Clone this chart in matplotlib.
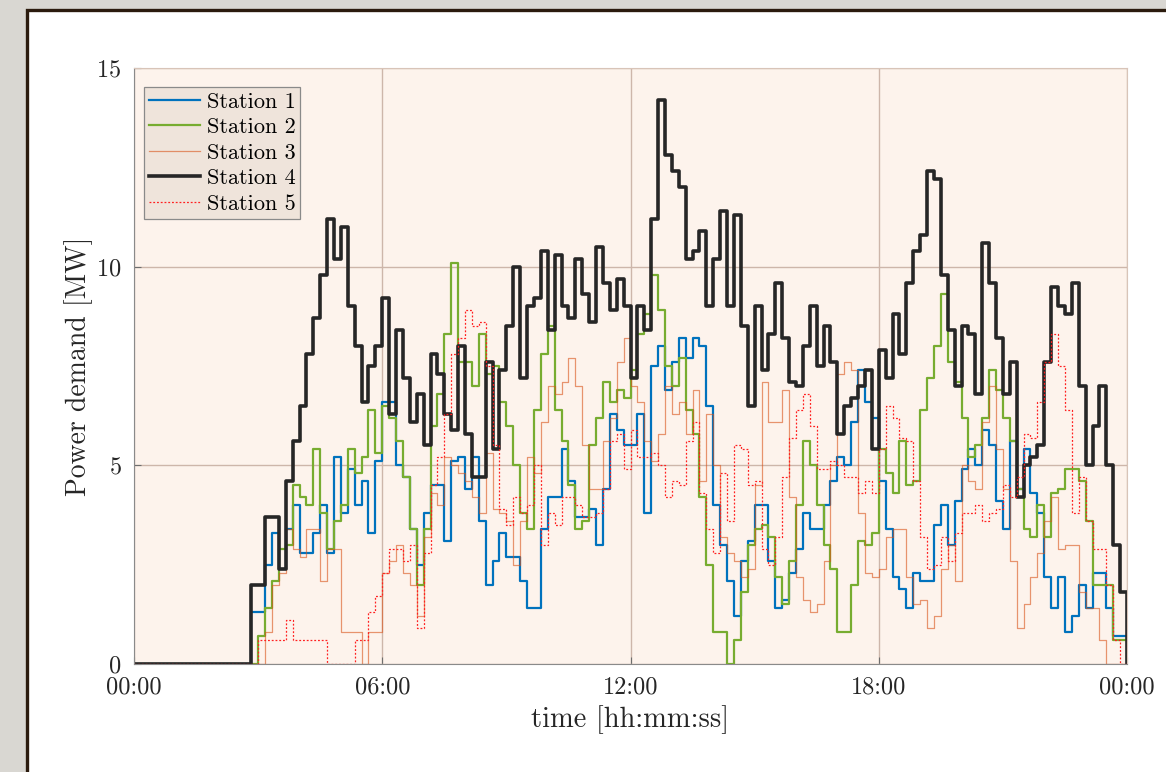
import numpy as np
import matplotlib
matplotlib.use('Agg')
import matplotlib.pyplot as plt
from matplotlib.patches import Rectangle

# power demand per station, 10-minute steps over one day (MW)
station1 = [0] * 12 + [
    0, 0, 0, 0, 0, 1.3, 1.3, 2.5, 3.3, 2.4, 3.4, 4.0,
    2.8, 2.8, 3.3, 4.0, 2.8, 5.2, 3.8, 4.9, 4.0, 4.6, 3.3, 5.1,
    6.6, 6.6, 5.0, 4.7, 3.4, 2.5, 3.8, 4.5, 4.5, 3.1, 5.1, 5.2,
    4.4, 5.2, 3.6, 2.0, 2.6, 3.3, 2.7, 2.7, 2.1, 1.4, 1.4, 3.4,
    4.2, 4.2, 5.4, 4.6, 3.7, 3.7, 3.9, 3.0, 4.4, 6.3, 5.9, 5.5,
    5.5, 6.3, 3.8, 7.5, 8.0, 6.9, 7.6, 8.2, 7.7, 8.2, 8.0, 6.5,
    4.0, 3.0, 2.1, 1.2, 2.6, 3.1, 4.0, 4.0, 2.6, 1.4, 1.6, 2.3,
    2.9, 3.8, 3.4, 3.4, 4.0, 4.6, 5.2, 5.0, 6.1, 7.4, 6.6, 6.2,
    4.6, 3.4, 2.2, 1.9, 1.4, 2.3, 2.1, 2.1, 3.5, 4.0, 3.0, 4.1,
    4.9, 5.4, 5.0, 5.9, 5.5, 4.1, 3.4, 5.6, 4.4, 5.4, 4.3, 3.8,
    2.2, 1.4, 2.2, 0.8, 1.2, 2.0, 1.4, 2.3, 2.3, 1.4, 0.7, 0.7]

station2 = [0] * 12 + [
    0, 0, 0, 0, 0, 0, 0.7, 1.4, 2.1, 2.9, 3.0, 4.5,
    4.2, 4.0, 5.4, 3.8, 2.9, 3.6, 4.0, 5.4, 4.8, 5.2, 6.4, 5.3,
    6.5, 6.2, 5.6, 4.7, 3.4, 2.0, 3.4, 6.0, 6.8, 8.3, 10.1, 7.6,
    7.6, 7.0, 8.3, 7.3, 7.5, 6.6, 6.0, 5.0, 3.8, 3.4, 6.4, 7.8,
    8.5, 6.4, 5.6, 4.5, 3.4, 3.6, 5.5, 6.2, 7.1, 6.6, 6.9, 6.7,
    7.4, 8.3, 8.8, 9.8, 8.9, 7.5, 7.0, 7.7, 6.4, 5.8, 4.2, 2.5,
    0.8, 0.8, 0.0, 0.6, 1.8, 3.0, 3.4, 3.5, 3.2, 2.2, 1.5, 2.6,
    4.0, 5.6, 5.0, 4.0, 3.0, 2.4, 0.8, 0.8, 2.0, 3.1, 3.0, 3.3,
    5.4, 4.8, 4.3, 5.6, 4.5, 4.6, 6.4, 7.2, 8.0, 9.3, 7.6, 7.1,
    6.2, 5.2, 5.5, 6.2, 7.4, 6.9, 6.2, 5.6, 4.4, 3.4, 3.2, 4.0,
    3.2, 4.3, 4.4, 4.9, 4.9, 4.6, 3.6, 2.0, 2.0, 2.0, 0.6, 0.6]

station3 = [0] * 12 + [
    0, 0, 0, 0, 0, 0, 0, 0.8, 2.0, 2.3, 3.4, 2.9,
    2.7, 3.4, 3.4, 2.1, 2.9, 2.9, 0.8, 0.8, 0.8, 0.0, 0.8, 0.8,
    2.3, 2.6, 3.0, 2.3, 2.0, 1.2, 3.2, 4.3, 4.0, 5.2, 5.0, 4.8,
    4.6, 4.2, 3.8, 5.3, 3.9, 3.8, 3.6, 2.5, 3.6, 5.2, 4.8, 6.1,
    7.0, 6.8, 7.1, 7.7, 7.0, 5.5, 4.4, 4.4, 5.6, 6.2, 7.6, 8.2,
    7.0, 6.6, 5.6, 5.1, 5.8, 7.0, 6.3, 6.6, 5.8, 6.9, 4.6, 6.3,
    5.0, 3.2, 2.8, 2.6, 2.2, 2.4, 4.5, 7.1, 6.1, 6.1, 6.9, 4.2,
    2.2, 1.6, 1.3, 1.5, 2.6, 5.0, 7.3, 7.6, 7.4, 3.8, 2.3, 2.2,
    2.4, 3.2, 3.4, 3.4, 2.2, 1.5, 1.6, 0.9, 1.2, 2.4, 3.0, 2.1,
    5.0, 4.6, 4.4, 6.1, 7.0, 5.4, 4.4, 2.6, 0.9, 1.5, 2.2, 2.8,
    3.6, 4.2, 2.9, 3.0, 3.0, 1.8, 1.4, 1.4, 0.6, 0, 0, 0]

station4 = [0] * 12 + [
    0, 0, 0, 0, 0, 2.0, 2.0, 3.7, 3.7, 2.4, 4.6, 5.6,
    6.5, 7.8, 8.7, 9.8, 11.2, 10.2, 11.0, 9.0, 8.0, 6.6, 7.5, 8.0,
    9.2, 6.3, 8.4, 7.2, 6.1, 6.8, 5.5, 7.8, 7.3, 6.3, 5.9, 8.0,
    5.8, 4.7, 4.7, 7.6, 5.4, 7.4, 8.5, 10.0, 7.2, 9.0, 9.2, 10.4,
    8.4, 10.3, 9.0, 8.7, 10.2, 9.3, 8.6, 10.5, 9.6, 8.9, 9.7, 9.0,
    7.2, 9.0, 8.4, 11.2, 14.2, 12.8, 12.4, 12.0, 10.2, 10.4, 10.9, 9.0,
    10.2, 11.4, 9.0, 11.3, 8.5, 6.5, 9.0, 7.4, 8.3, 9.6, 8.2, 7.1,
    7.0, 8.0, 9.0, 7.5, 8.5, 7.6, 5.8, 6.5, 6.7, 7.0, 7.4, 5.4,
    7.9, 7.2, 8.8, 7.8, 9.6, 10.4, 10.8, 12.4, 12.2, 9.8, 8.4, 7.0,
    8.5, 8.3, 6.8, 10.6, 9.6, 8.2, 6.8, 7.6, 4.2, 5.0, 5.2, 5.5,
    7.6, 9.5, 9.0, 8.8, 9.6, 7.0, 5.0, 6.0, 7.0, 5.0, 3.0, 1.8]

station5 = [0] * 12 + [
    0, 0, 0, 0, 0, 0, 0.6, 0.6, 0.6, 0.6, 1.1, 0.6,
    0.6, 0.6, 0.6, 0.6, 0, 0, 0, 0, 0.6, 0.6, 1.3, 1.7,
    2.3, 2.9, 2.9, 2.6, 3.0, 0.9, 2.8, 4.5, 5.2, 6.3, 7.8, 8.2,
    8.9, 8.5, 8.6, 7.5, 5.5, 3.9, 3.5, 4.2, 3.8, 4.0, 5.0, 3.0,
    3.8, 3.5, 4.2, 4.2, 4.0, 3.7, 3.7, 3.8, 4.4, 5.6, 5.8, 4.9,
    5.9, 5.2, 5.2, 5.3, 5.0, 4.2, 4.6, 4.5, 5.6, 6.1, 4.3, 3.4,
    2.8, 4.8, 3.6, 5.5, 5.4, 4.5, 4.6, 2.9, 2.5, 3.2, 4.7, 5.7,
    6.4, 6.8, 6.0, 4.9, 4.9, 5.1, 5.0, 4.7, 4.7, 4.3, 4.6, 4.3,
    5.4, 6.5, 6.2, 5.7, 5.6, 4.6, 3.2, 2.4, 2.5, 3.2, 2.6, 3.3,
    3.8, 3.8, 4.0, 3.6, 3.8, 3.9, 4.5, 4.2, 4.7, 5.8, 5.7, 6.6,
    7.6, 8.3, 7.5, 6.4, 3.8, 4.7, 3.6, 2.9, 2.9, 2.0, 0.6, 0]

labels = ['Station 1', 'Station 2', 'Station 3', 'Station 4', 'Station 5']
tick_hours = [0, 6, 12, 18, 24]
tick_labels = ['00:00', '06:00', '12:00', '18:00', '00:00']

plt.rcParams['font.family'] = ['cmr10', 'DejaVu Serif']
plt.rcParams['axes.formatter.use_mathtext'] = True

fig = plt.figure(figsize=(11.66, 7.72), dpi=100)
fig.patch.set_facecolor('#D9D7D2')
fig.add_artist(Rectangle((27 / 1166, -0.05), 1.0, 1.05 - 10 / 772,
                         transform=fig.transFigure, facecolor='white',
                         edgecolor='#2B1B0E', lw=2.4, zorder=0))

ax = fig.add_axes([134 / 1166, 1 - 664 / 772, 993 / 1166, 596 / 772])
ax.set_facecolor('#FDF3EC')

t = np.arange(145) / 6.0
styles = [
    dict(color='#0072BD', lw=1.6),
    dict(color='#77AC30', lw=1.6),
    dict(color='#D95319', lw=0.9, alpha=0.6),
    dict(color='#262626', lw=2.6),
    dict(color='#FF2020', lw=0.9, ls=(0, (1.5, 1.5))),
]
for vals, lab, st in zip([station1, station2, station3, station4, station5], labels, styles):
    ax.plot(t, np.append(vals, 0), drawstyle='steps-post', label=lab, **st)

ax.set_xlim(0, 24)
ax.set_ylim(0, 15)
ax.set_xticks(tick_hours)
ax.set_xticklabels(tick_labels)
ax.set_yticks([0, 5, 10, 15])
ax.grid(True, color='#CDB6AA', lw=1.0)
ax.set_axisbelow(True)
ax.tick_params(direction='in', length=5, color='#6E6E6E', labelsize=17.5,
               pad=9, labelcolor='#262626')
for side in ['left', 'bottom']:
    ax.spines[side].set_color('#8A8A8A')
for side in ['top', 'right']:
    ax.spines[side].set_color('#D8C4B8')

ax.set_xlabel('time [hh:mm:ss]', fontsize=20.5, color='#262626', labelpad=5)
ax.set_ylabel('Power demand [MW]', fontsize=20, color='#262626', labelpad=2)

leg = ax.legend(loc='upper left', bbox_to_anchor=(0.010, 0.968), borderaxespad=0,
                fontsize=16, fancybox=False, framealpha=1, handlelength=2.3,
                handletextpad=0.3, borderpad=0.22, labelspacing=0.27)
leg.get_frame().set_facecolor('#EFE4DB')
leg.get_frame().set_edgecolor('#8A8A8A')
leg.get_frame().set_linewidth(0.9)

fig.savefig('out.png', dpi=100, facecolor=fig.get_facecolor())
